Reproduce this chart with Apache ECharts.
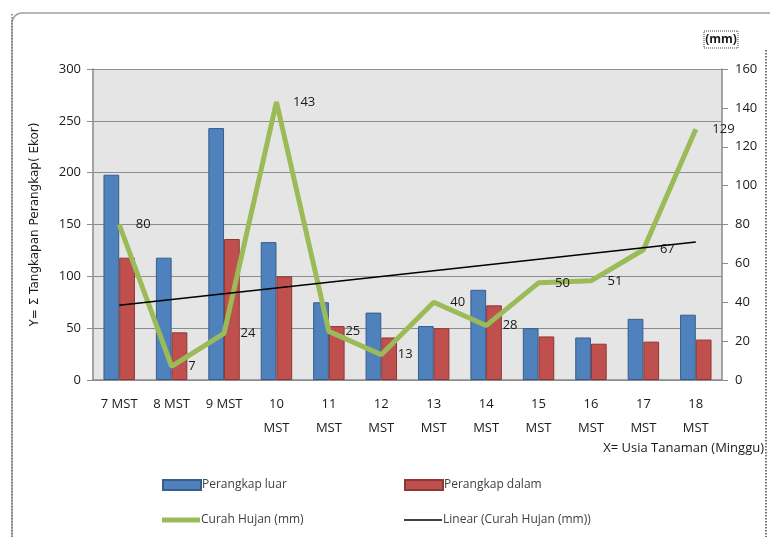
<!DOCTYPE html>
<html>
<head>
<meta charset="utf-8">
<script src="https://cdn.jsdelivr.net/npm/echarts@6/dist/echarts.min.js"></script>
<style>
html,body{margin:0;padding:0;background:#fff;}
#c{width:770px;height:537px;}
</style>
</head>
<body>
<div id="c"></div>
<script>
var categories = ['7 MST','8 MST','9 MST','10 MST','11 MST','12 MST','13 MST','14 MST','15 MST','16 MST','17 MST','18 MST'];
var perangkapLuar = [198, 118, 243, 133, 75, 65, 52, 87, 50, 41, 59, 63];
var perangkapDalam = [118, 46, 136, 100, 52, 41, 50, 72, 42, 35, 37, 39];
var curahHujan = [80, 7, 24, 143, 25, 13, 40, 28, 50, 51, 67, 129];
var trendLinear = [38.5, null, null, null, null, null, null, null, null, null, null, 71];
var leftTicks = [0, 50, 100, 150, 200, 250, 300];
var rightTicks = [0, 20, 40, 60, 80, 100, 120, 140, 160];

var FONT = 'Open Sans';
var chart = echarts.init(document.getElementById('c'), null, {renderer: 'canvas'});

function legendAt(name, left, top, icon, h) {
  return {
    data: [{name: name, icon: icon}],
    left: left, top: top,
    itemWidth: 38, itemHeight: h, itemGap: 0,
    textStyle: {fontFamily: FONT, fontSize: 12, color: '#404040', padding: [0,0,0,-4]},
    selectedMode: false
  };
}

var option = {
  backgroundColor: '#fff',
  animation: false,
  grid: {left: 93, right: 48, top: 69, bottom: 157, show: true, backgroundColor: '#e5e5e5', borderWidth: 0},
  legend: [
    legendAt('Perangkap luar', 157, 474, 'rect', 10),
    legendAt('Perangkap dalam', 399, 474, 'rect', 10),
    legendAt('Curah Hujan (mm)', 157, 509, 'path://M0,0 L38,0 L38,5 L0,5 Z', 5),
    legendAt('Linear (Curah Hujan (mm))', 399, 509, 'path://M0,0 L38,0 L38,1.6 L0,1.6 Z', 2)
  ],
  xAxis: {
    type: 'category',
    data: categories,
    axisLine: {lineStyle: {color: '#8a8a8a', width: 1.5}},
    axisTick: {show: false},
    axisLabel: {
      fontFamily: FONT, fontSize: 13, color: '#1a1a1a', margin: 12, lineHeight: 24, interval: 0,
      formatter: function (v) { return v.length > 5 ? v.replace(' ', '\n') : v; }
    }
  },
  yAxis: [
    {
      type: 'value', min: 0, max: 300, interval: 50,
      name: 'Y= \u03a3 Tangkapan Perangkap( Ekor)', nameLocation: 'middle', nameGap: 52, nameRotate: 90,
      nameTextStyle: {fontFamily: 'DejaVu Sans', fontSize: 12, color: '#1a1a1a'},
      axisLine: {show: true, lineStyle: {color: '#8a8a8a', width: 1.5}},
      axisTick: {show: true, length: 6, lineStyle: {color: '#8a8a8a'}},
      axisLabel: {fontFamily: FONT, fontSize: 13, color: '#1a1a1a', margin: 12,
        formatter: function (v) { return leftTicks.indexOf(v) >= 0 ? String(v) : ''; }},
      splitLine: {show: true, lineStyle: {color: '#8c8c8c', width: 1.2}}
    },
    {
      type: 'value', min: 0, max: 160, interval: 20, position: 'right',
      axisLine: {show: true, lineStyle: {color: '#8a8a8a', width: 1.5}},
      axisTick: {show: true, length: 6, lineStyle: {color: '#8a8a8a'}},
      axisLabel: {fontFamily: FONT, fontSize: 13, color: '#1a1a1a', margin: 13,
        formatter: function (v) { return rightTicks.indexOf(v) >= 0 ? String(v) : ''; }},
      splitLine: {show: false}
    }
  ],
  graphic: [
    {type: 'rect', shape: {x: 12, y: 13, width: 780, height: 540, r: 10}, style: {fill: 'none', stroke: '#a0a0a0', lineWidth: 1.5}, silent: true},
    {type: 'line', shape: {x1: 12, y1: 14, x2: 12, y2: 537}, style: {stroke: '#777', lineWidth: 1.5, lineDash: [1.5, 1.5]}, silent: true},
    {type: 'line', shape: {x1: 766, y1: 50, x2: 766, y2: 537}, style: {stroke: '#444', lineWidth: 1.5, lineDash: [1.5, 1.5]}, silent: true},
    {type: 'rect', shape: {x: 704, y: 31, width: 34, height: 17}, style: {fill: 'none', stroke: '#444', lineWidth: 1, lineDash: [1, 1]}, silent: true},
    {type: 'text', x: 721, y: 40, style: {text: '(mm)', fontFamily: FONT, fontSize: 12, fontWeight: 'bold', fill: '#1a1a1a', align: 'center', verticalAlign: 'middle'}, silent: true},
    {type: 'text', x: 764, y: 448, style: {text: 'X= Usia Tanaman (Minggu)', fontFamily: FONT, fontSize: 13, fill: '#1a1a1a', align: 'right', verticalAlign: 'middle'}, silent: true}
  ],
  series: [
    {
      name: 'Perangkap luar', type: 'bar', yAxisIndex: 0, data: perangkapLuar,
      barGap: '0%', barCategoryGap: '40%',
      itemStyle: {color: '#4f81bd', borderColor: '#385d8a', borderWidth: 1}
    },
    {
      name: 'Perangkap dalam', type: 'bar', yAxisIndex: 0, data: perangkapDalam,
      barGap: '0%', barCategoryGap: '40%',
      itemStyle: {color: '#c0504d', borderColor: '#8c3836', borderWidth: 1}
    },
    {
      name: 'Curah Hujan (mm)', type: 'line', yAxisIndex: 1, data: curahHujan,
      symbol: 'circle', symbolSize: 1, showSymbol: true, z: 5,
      lineStyle: {color: '#9bbb59', width: 5},
      itemStyle: {color: '#9bbb59'},
      labelLayout: {hideOverlap: false},
      label: {show: true, position: 'right', distance: 16, fontFamily: FONT, fontSize: 13, color: '#1a1a1a'}
    },
    {
      name: 'Linear (Curah Hujan (mm))', type: 'line', yAxisIndex: 1, data: trendLinear,
      connectNulls: true, symbol: 'none', z: 6,
      lineStyle: {color: '#000', width: 1.5},
      itemStyle: {color: '#000'}
    }
  ]
};
chart.setOption(option);
</script>
</body>
</html>
